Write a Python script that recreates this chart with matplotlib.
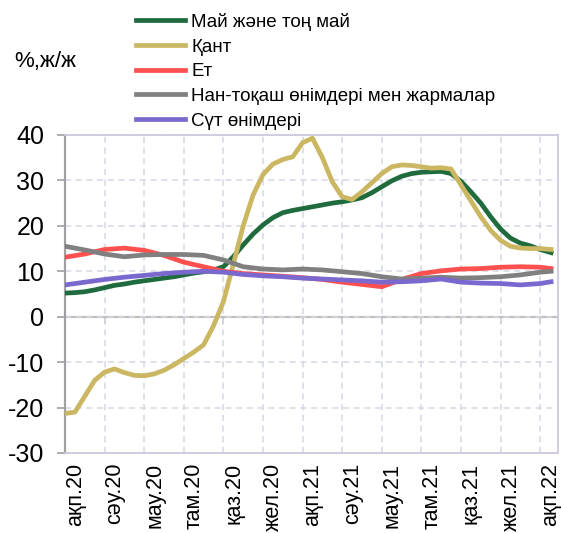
import matplotlib
matplotlib.use("Agg")
import matplotlib.pyplot as plt

plt.rcParams['font.family'] = ['Liberation Sans', 'DejaVu Sans']
plt.rcParams['axes.unicode_minus'] = False

# months since Feb 2020 (last point a bit past Feb 2022)
months = list(range(25)) + [24.55]
half_months = [i / 2 for i in range(49)] + [24.55]

butter = [5.2, 5.3, 5.5, 5.9, 6.4, 6.9, 7.2, 7.6, 7.9, 8.2, 8.5, 8.8, 9.2, 9.6, 9.9, 10.3,
          11.0, 13.2, 15.8, 18.2, 20.2, 21.8, 22.9, 23.4, 23.8, 24.2, 24.6, 25.0, 25.3, 25.7,
          26.2, 27.3, 28.6, 29.9, 30.9, 31.5, 31.8, 31.9, 32.0, 31.5, 29.8, 27.5, 25.0, 22.0,
          19.3, 17.3, 16.2, 15.6, 14.8, 14.1]
sugar = [-21.3, -21.0, -17.5, -14.0, -12.2, -11.5, -12.3, -12.9, -13.0, -12.6, -11.8, -10.6,
         -9.2, -7.8, -6.2, -2.0, 3.3, 11.5, 20.0, 26.8, 31.3, 33.6, 34.6, 35.2, 38.3, 39.3,
         35.0, 29.7, 26.4, 25.8, 27.5, 29.5, 31.5, 33.0, 33.4, 33.3, 33.0, 32.7, 32.8, 32.5,
         29.0, 25.5, 22.0, 19.0, 16.8, 15.5, 15.1, 15.0, 15.0, 14.8]
meat = [13.1, 13.8, 14.8, 15.1, 14.6, 13.5, 12.0, 11.0, 10.0, 9.5, 9.2, 8.9, 8.6,
        8.2, 7.6, 7.1, 6.6, 8.2, 9.5, 10.1, 10.5, 10.6, 10.9, 11.0, 10.9, 10.6]
bread = [15.5, 14.7, 13.8, 13.2, 13.6, 13.7, 13.7, 13.5, 12.5, 11.0, 10.5, 10.3, 10.5,
         10.3, 9.9, 9.5, 8.8, 8.3, 8.5, 8.7, 8.5, 8.6, 8.8, 9.2, 9.8, 10.0]
dairy = [7.0, 7.6, 8.2, 8.7, 9.1, 9.5, 9.8, 10.0, 9.8, 9.3, 9.0, 8.8, 8.5,
         8.3, 8.1, 7.9, 7.6, 7.7, 7.9, 8.3, 7.6, 7.4, 7.3, 7.0, 7.3, 7.7]

names = ['Май және тоң май', 'Қант', 'Ет', 'Нан-тоқаш өнімдері мен жармалар', 'Сүт өнімдері']
colors = ['#1f6b3e', '#cbb762', '#ff5050', '#808080', '#7b68cf']

tick_pos = list(range(0, 25, 2))
tick_labels = ['ақп.20', 'сәу.20', 'мау.20', 'там.20', 'қаз.20', 'жел.20', 'ақп.21',
               'сәу.21', 'мау.21', 'там.21', 'қаз.21', 'жел.21', 'ақп.22']

fig = plt.figure(figsize=(5.61, 5.33), dpi=100)
ax = fig.add_axes([65 / 561, 1 - 453 / 533, 493 / 561, 318 / 533])

series = [(half_months, butter), (half_months, sugar), (months, meat), (months, bread), (months, dairy)]
for (xs, ys), name, c in zip(series, names, colors):
    ax.plot(xs, ys, color=c, lw=3.4, label=name, solid_joinstyle='round', zorder=3)

ax.set_xlim(0, 24.9)
ax.set_ylim(-30, 40)
ax.set_yticks(range(-30, 41, 10))
ax.set_xticks(tick_pos)
ax.set_xticklabels(tick_labels, rotation=90, ha='left', fontsize=15.5)
ax.tick_params(axis='x', length=0, pad=7)
ax.tick_params(axis='y', labelsize=18, length=6, width=1.2, color='#a0a0a0', pad=9)

ax.grid(True, ls=(0, (4, 3)), color='#d5d8e3', lw=1.1, zorder=0)
ax.axhline(0, color='#bfbfbf', lw=1.6, zorder=1)

frame = '#cfc8dc'
for s in ['top', 'right', 'bottom']:
    ax.spines[s].set_color(frame)
    ax.spines[s].set_linewidth(1.3)
ax.spines['left'].set_color('#a0a0a0')
ax.spines['left'].set_linewidth(1.6)

# ticks on the zero line
sec = ax.secondary_xaxis(3 / 7)
sec.set_xticks(tick_pos)
sec.tick_params(labelbottom=False, length=5, width=1.2, color='#bfbfbf')
sec.spines['bottom'].set_visible(False)

fig.text(14 / 561, 1 - 62 / 533, '%,ж/ж', fontsize=16, va='center', ha='left')

fig.legend(loc='upper left', bbox_to_anchor=(136 / 561, 1 - 13 / 533), frameon=False,
           fontsize=13.5, handlelength=2.6, handletextpad=0.35, labelspacing=0.4,
           borderpad=0, borderaxespad=0)

fig.savefig('out.png', dpi=100)
